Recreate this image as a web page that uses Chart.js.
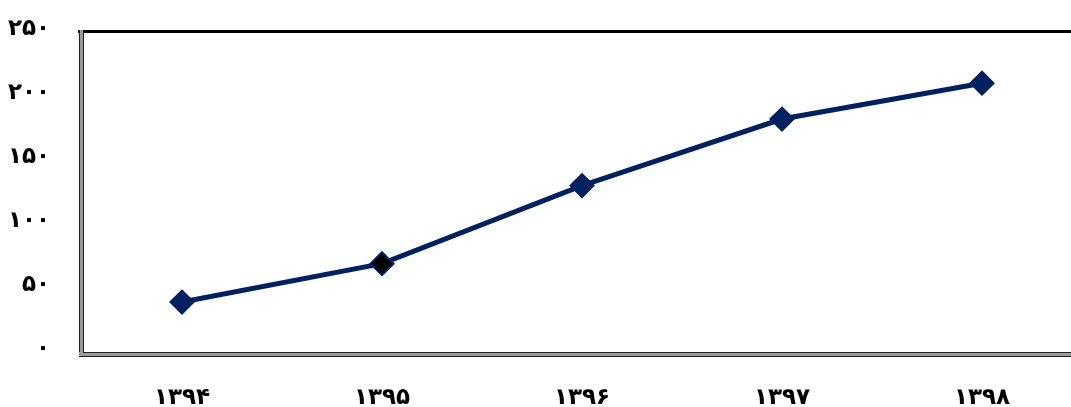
<!DOCTYPE html>
<html>
<head>
<meta charset="utf-8">
<script src="https://cdn.jsdelivr.net/npm/chart.js@4"></script>
<style>
  html, body { margin: 0; padding: 0; background: #fff; overflow: hidden; }
  #wrap { width: 1100px; height: 407px; position: relative; }
</style>
</head>
<body>
<div id="wrap"><canvas id="lineChart"></canvas></div>
<script>
// data
const years = ['۱۳۹۴', '۱۳۹۵', '۱۳۹۶', '۱۳۹۷', '۱۳۹۸'];
const values = [39, 69, 130, 182, 210];
const yTicks = [0, 50, 100, 150, 200, 250];

const faDigits = '۰۱۲۳۴۵۶۷۸۹';
function toFa(n) {
  return String(n).replace(/\d/g, d => faDigits[d]);
}

const navy = '#00205F';

// frame like the excel plot area: thick top line, double left/bottom lines
const frame = {
  id: 'frame',
  afterDraw(chart) {
    const { ctx, chartArea: a } = chart;
    ctx.save();
    // top
    ctx.fillStyle = '#000';
    ctx.fillRect(a.left - 4, a.top - 2, a.right - a.left + 10, 3);
    // left double line
    ctx.fillStyle = '#999';
    ctx.fillRect(a.left - 3, a.top - 2, 4, a.bottom - a.top + 6);
    ctx.fillStyle = '#222';
    ctx.fillRect(a.left - 3, a.top - 2, 1, a.bottom - a.top + 6);
    ctx.fillRect(a.left + 1, a.top - 1, 1, a.bottom - a.top + 1);
    // bottom double line
    ctx.fillStyle = '#999';
    ctx.fillRect(a.left - 3, a.bottom, a.right - a.left + 10, 4);
    ctx.fillStyle = '#222';
    ctx.fillRect(a.left + 1, a.bottom, a.right - a.left + 10, 1);
    ctx.fillRect(a.left - 3, a.bottom + 4, a.right - a.left + 10, 1);
    ctx.restore();
  }
};

const ctx = document.getElementById('lineChart').getContext('2d');
const lineChart = new Chart(ctx, {
  type: 'line',
  data: {
    labels: years,
    datasets: [{
      data: values,
      borderColor: navy,
      borderWidth: 5,
      pointStyle: 'rectRot',
      pointRadius: 11.5,
      pointBorderWidth: 2,
      pointBorderColor: navy,
      pointBackgroundColor: [navy, '#000', navy, navy, navy],
      tension: 0
    }]
  },
  options: {
    responsive: true,
    maintainAspectRatio: false,
    animation: false,
    layout: { padding: { top: 32, right: 18, left: 0, bottom: 0 } },
    plugins: {
      legend: { display: false },
      tooltip: { enabled: false }
    },
    scales: {
      x: {
        offset: true,
        grid: { display: false, drawTicks: false },
        border: { display: false },
        ticks: {
          color: '#000',
          padding: 32,
          font: { family: 'DejaVu Sans', size: 23, weight: 'bold' }
        },
        afterFit(scale) { scale.height = 55; }
      },
      y: {
        min: 0,
        max: 250,
        afterBuildTicks(scale) { scale.ticks = yTicks.map(v => ({ value: v })); },
        grid: { display: false, drawTicks: false },
        border: { display: false },
        ticks: {
          color: '#000',
          padding: 32,
          labelOffset: -3,
          font: { family: 'DejaVu Sans', size: 23, weight: 'bold' },
          callback: v => toFa(v)
        },
        afterFit(scale) {
          scale.width = 82;
          scale.paddingTop = 0;
          scale.paddingBottom = 0;
        }
      }
    }
  },
  plugins: [frame]
});
</script>
</body>
</html>
